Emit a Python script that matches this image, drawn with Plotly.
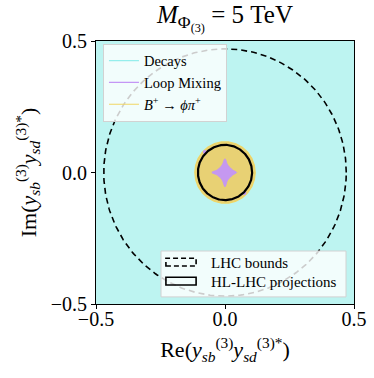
import numpy as np
import plotly.graph_objects as go

# ---------------- data ----------------
axis_range = [-0.5, 0.5]
tick_vals = [-0.5, 0.0, 0.5]
tick_text = ["\u22120.5", "0.0", "0.5"]

# Decays: allowed region covers the full plane shown
decays_x = [-0.5, 0.5, 0.5, -0.5, -0.5]
decays_y = [-0.5, -0.5, 0.5, 0.5, -0.5]

# circular bounds (radius, centre)
bphipi_radius = 0.117
hllhc_radius = 0.105
lhc_radius = 0.47
centre = (0.0, 0.0)

# Loop mixing allowed region: radius vs polar angle (deg)
loop_angles = [0, 15, 30, 45, 60, 75, 90, 105, 120, 135, 150, 165,
               180, 195, 210, 225, 240, 255, 270, 285, 300, 315, 330, 345]
loop_radii = [0.045, 0.032, 0.028, 0.027, 0.028, 0.033, 0.052, 0.034, 0.028, 0.027, 0.028, 0.033,
              0.051, 0.033, 0.028, 0.027, 0.028, 0.034, 0.054, 0.033, 0.028, 0.027, 0.028, 0.032]
loop_offset = (0.0, 0.0)
loop_islands_x = [-0.078, 0.075]
loop_islands_y = [0.078, -0.078]

legend2_labels = ["LHC bounds", "HL-LHC projections"]

# ---------------- helpers ----------------
theta = np.linspace(0, 2 * np.pi, 361)


def circle(r, c):
    return c[0] + r * np.cos(theta), c[1] + r * np.sin(theta)


la = np.deg2rad(np.array(loop_angles + [360]))
lr = np.array(loop_radii + [loop_radii[0]])
loop_x = loop_offset[0] + lr * np.cos(la)
loop_y = loop_offset[1] + lr * np.sin(la)

cyan_fill = "rgb(189,244,241)"
cyan_line = "rgb(150,238,236)"
purple_fill = "rgb(197,152,240)"
purple_line = "rgb(196,150,245)"
yellow_fill = "rgb(232,209,116)"
yellow_line = "rgb(240,214,100)"

fig = go.Figure()

fig.add_trace(go.Scatter(x=decays_x, y=decays_y, fill="toself", fillcolor=cyan_fill,
                         mode="lines", line=dict(width=0), showlegend=False, hoverinfo="skip"))
bx, by = circle(bphipi_radius, centre)
fig.add_trace(go.Scatter(x=bx, y=by, fill="toself", fillcolor=yellow_fill,
                         mode="lines", line=dict(color=yellow_line, width=1.2),
                         showlegend=False, hoverinfo="skip"))
fig.add_trace(go.Scatter(x=loop_x, y=loop_y, fill="toself", fillcolor=purple_fill,
                         mode="lines", line=dict(color=purple_fill, width=1, shape="spline"),
                         showlegend=False, hoverinfo="skip"))
fig.add_trace(go.Scatter(x=loop_islands_x, y=loop_islands_y, mode="markers",
                         marker=dict(color=purple_fill, size=4), showlegend=False, hoverinfo="skip"))

hx, hy = circle(hllhc_radius, centre)
fig.add_trace(go.Scatter(x=hx, y=hy, mode="lines", line=dict(color="black", width=2.2),
                         showlegend=False, hoverinfo="skip"))
lx, ly = circle(lhc_radius, centre)
fig.add_trace(go.Scatter(x=lx, y=ly, mode="lines", line=dict(color="black", width=1.6, dash="6px,4px"),
                         showlegend=False, hoverinfo="skip"))

for name, col in [("Decays", cyan_line), ("Loop Mixing", purple_line),
                  ("<i>B</i><sup>+</sup> \u2192 <i>\u03d5\u03c0</i><sup>+</sup>", yellow_line)]:
    fig.add_trace(go.Scatter(x=[None], y=[None], mode="lines", line=dict(color=col, width=1.2),
                             name=name, legend="legend"))

# manual second legend (rectangle patches)
box_col = "rgb(210,210,210)"
fig.add_shape(type="rect", xref="paper", yref="paper", x0=0.252, x1=0.969, y0=0.027, y1=0.2015,
              fillcolor="rgba(255,255,255,0.8)", line=dict(color=box_col, width=1), layer="above")
fig.add_shape(type="rect", xref="paper", yref="paper", x0=0.271, x1=0.388, y0=0.1445, y1=0.174,
              fillcolor="rgba(0,0,0,0)", line=dict(color="black", width=1.6, dash="5px,3px"), layer="above")
fig.add_shape(type="rect", xref="paper", yref="paper", x0=0.271, x1=0.388, y0=0.072, y1=0.1015,
              fillcolor="rgba(0,0,0,0)", line=dict(color="black", width=1.6), layer="above")
for lab, yy in zip(legend2_labels, [0.157, 0.084]):
    fig.add_annotation(text=lab, xref="paper", yref="paper", x=0.437, y=yy, xanchor="left",
                       yanchor="middle", showarrow=False, font=dict(size=15))

font_family = "Liberation Serif"
fig.update_layout(
    width=374, height=378,
    margin=dict(l=96, r=20, t=41, b=74, autoexpand=False),
    paper_bgcolor="white", plot_bgcolor="white",
    font=dict(family=font_family, size=18, color="black"),
    title=dict(text="<i>M</i><sub>\u03a6<sub>(3)</sub></sub> = 5 TeV", x=0.5, xref="paper",
               xanchor="center", y=0.985, yanchor="top", font=dict(size=25)),
    legend=dict(x=0.027, y=0.99, xanchor="left", yanchor="top",
                bgcolor="rgba(255,255,255,0.8)", bordercolor=box_col, borderwidth=1,
                font=dict(size=14.5), traceorder="normal", itemwidth=30, tracegroupgap=0),
    showlegend=True,
)
axis_common = dict(range=axis_range, tickvals=tick_vals, ticktext=tick_text, ticks="outside",
                   ticklen=4, tickwidth=1, tickcolor="black", showline=True, linecolor="black",
                   linewidth=1, mirror=True, showgrid=False, zeroline=False, automargin=False,
                   tickfont=dict(size=20))
fig.update_xaxes(**axis_common, ticklabelstandoff=-7,
                 title=dict(text="Re(<i>y</i><sub><i>sb</i></sub><sup>(3)</sup><i>y</i><sub><i>sd</i></sub><sup>(3)*</sup>)",
                            font=dict(size=22), standoff=12))
fig.update_yaxes(**axis_common,
                 title=dict(text="Im(<i>y</i><sub><i>sb</i></sub><sup>(3)</sup><i>y</i><sub><i>sd</i></sub><sup>(3)*</sup>)",
                            font=dict(size=22), standoff=8))

fig.write_html("out.html", config={"displayModeBar": False},
               post_script="document.body.style.margin='0';")
